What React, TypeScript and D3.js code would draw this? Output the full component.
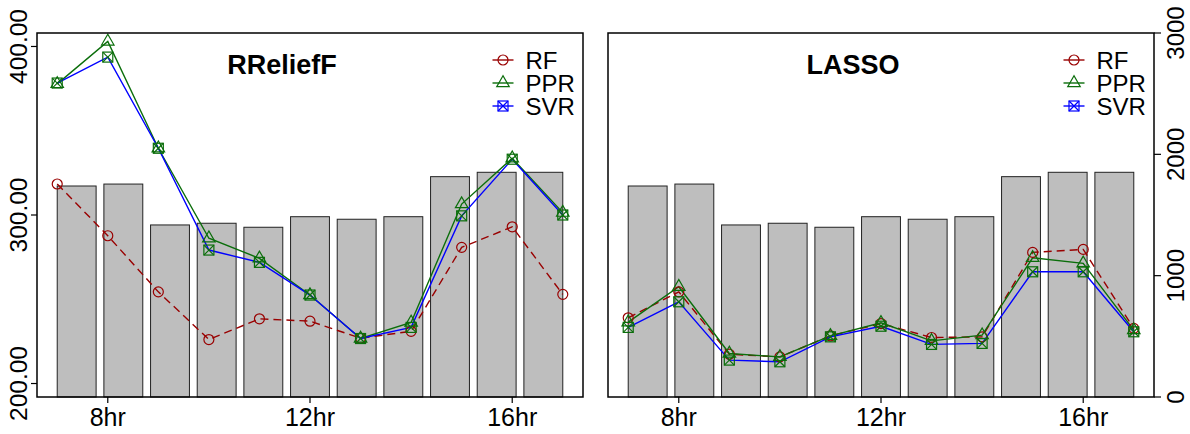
import React from "react";
import * as d3 from "d3";

const hours = [7, 8, 9, 10, 11, 12, 13, 14, 15, 16, 17];
const hourTicks = [8, 12, 16];
const hourTickLabels = ["8hr", "12hr", "16hr"];
const barValues = [1739, 1755, 1418, 1432, 1399, 1486, 1465, 1486, 1816, 1852, 1852];
const leftTicks = [200, 300, 400];
const leftTickLabels = ["200.00", "300.00", "400.00"];
const rightTicks = [0, 1000, 2000, 3000];
const rightTickLabels = ["0", "1000", "2000", "3000"];

const rreliefRF = [318.4, 287.7, 254.4, 226.1, 238.4, 237.0, 226.9, 231.0, 280.8, 293.0, 252.9];
const rreliefPPR = [377.8, 403.0, 339.6, 286.2, 274.3, 252.5, 226.7, 236.2, 306.5, 333.7, 301.4];
const rreliefSVR = [378.3, 393.7, 339.6, 279.2, 271.9, 252.5, 226.7, 233.3, 299.5, 333.1, 300.0];

const lassoRF = [239.0, 254.4, 217.4, 215.8, 228.3, 235.6, 227.3, 227.7, 277.8, 279.6, 232.7];
const lassoPPR = [236.4, 257.4, 217.8, 215.8, 228.3, 236.0, 225.3, 228.7, 274.6, 271.3, 231.7];
const lassoSVR = [233.3, 248.5, 213.9, 212.9, 227.7, 234.0, 223.2, 223.8, 266.3, 266.3, 230.7];

const panelTitles = ["RReliefF", "LASSO"];
const seriesNames = ["RF", "PPR", "SVR"];

const RED = "#990000";
const GREEN = "#0b6e0b";
const BLUE = "#0000ff";
const FONT = "'Liberation Sans', Arial, Helvetica, sans-serif";

const TOP = 33;
const BOTTOM = 397;

function Marker({ kind, x, y, color }: { kind: string; x: number; y: number; color: string }) {
  if (kind === "circle") {
    return <circle cx={x} cy={y} r={5} fill="none" stroke={color} strokeWidth={1.2} />;
  }
  if (kind === "triangle") {
    const s = 12.5;
    const h = (s * Math.sqrt(3)) / 2;
    const pts = [
      [x, y - (2 * h) / 3],
      [x - s / 2, y + h / 3],
      [x + s / 2, y + h / 3],
    ];
    return <polygon points={pts.map((p) => p.join(",")).join(" ")} fill="none" stroke={color} strokeWidth={1.2} />;
  }
  const r = 5;
  return (
    <g stroke={color} strokeWidth={1.2} fill="none">
      <rect x={x - r} y={y - r} width={2 * r} height={2 * r} />
      <line x1={x - r} y1={y - r} x2={x + r} y2={y + r} />
      <line x1={x - r} y1={y + r} x2={x + r} y2={y - r} />
    </g>
  );
}

function Panel({
  left,
  right,
  title,
  rf,
  ppr,
  svr,
  showLeftAxis,
  showRightAxis,
}: {
  left: number;
  right: number;
  title: string;
  rf: number[];
  ppr: number[];
  svr: number[];
  showLeftAxis: boolean;
  showRightAxis: boolean;
}) {
  const pad = (right - left) * (0.52 / 14.04);
  const band = d3
    .scaleBand<number>()
    .domain(hours)
    .range([left + pad, right - pad])
    .paddingInner(1 - 1 / 1.2)
    .paddingOuter(0);
  const xp = d3.scaleLinear().domain([7, 17]).range([left + pad, right - pad]);
  const yBar = d3.scaleLinear().domain([0, 3000]).range([BOTTOM, TOP]);
  const yLine = d3.scaleLinear().domain([192, 408]).range([BOTTOM, TOP]);

  const lineGen = d3
    .line<number>()
    .x((_, i) => xp(hours[i]))
    .y((d) => yLine(d));

  const series = [
    { name: seriesNames[0], data: rf, color: RED, dash: "8,5", marker: "circle", markerColor: RED },
    { name: seriesNames[1], data: ppr, color: GREEN, dash: undefined, marker: "triangle", markerColor: GREEN },
    { name: seriesNames[2], data: svr, color: BLUE, dash: undefined, marker: "square", markerColor: GREEN },
  ];

  const legendY = [60, 83, 106];

  return (
    <g>
      {hours.map((h, i) => (
        <rect
          key={h}
          x={band(h)}
          y={yBar(barValues[i])}
          width={band.bandwidth()}
          height={yBar(0) - yBar(barValues[i])}
          fill="#bebebe"
          stroke="#222"
          strokeWidth={1}
        />
      ))}
      {series.map((s) => (
        <path
          key={s.name}
          d={lineGen(s.data) || ""}
          fill="none"
          stroke={s.color}
          strokeWidth={1.4}
          strokeDasharray={s.dash}
        />
      ))}
      {series.map((s) =>
        s.data.map((v, i) => (
          <Marker key={s.name + i} kind={s.marker} x={xp(hours[i])} y={yLine(v)} color={s.markerColor} />
        ))
      )}
      <rect x={left} y={TOP} width={right - left} height={BOTTOM - TOP} fill="none" stroke="#000" strokeWidth={1.5} />
      <text
        x={left + 245}
        y={74}
        textAnchor="middle"
        fontFamily={FONT}
        fontWeight="bold"
        fontSize={27}
        fill="#000"
      >
        {title}
      </text>
      {series.map((s, i) => (
        <g key={"leg" + s.name}>
          <line
            x1={left + 455.5}
            x2={left + 476.5}
            y1={legendY[i]}
            y2={legendY[i]}
            stroke={s.color}
            strokeWidth={1.4}
          />
          <Marker kind={s.marker} x={left + 466} y={legendY[i]} color={s.color} />
          <text x={left + 488.5} y={legendY[i] + 8.5} fontFamily={FONT} fontSize={24} fill="#000">
            {s.name}
          </text>
        </g>
      ))}
      {hourTicks.map((h, i) => (
        <g key={"xt" + h}>
          <line x1={xp(h)} x2={xp(h)} y1={BOTTOM} y2={BOTTOM + 6} stroke="#000" strokeWidth={1.2} />
          <text x={xp(h)} y={425.5} textAnchor="middle" fontFamily={FONT} fontSize={25} fill="#000">
            {hourTickLabels[i]}
          </text>
        </g>
      ))}
      {showLeftAxis &&
        leftTicks.map((t, i) => (
          <g key={"yl" + t}>
            <line x1={left - 6} x2={left} y1={yLine(t)} y2={yLine(t)} stroke="#000" strokeWidth={1.2} />
            <text
              transform={`translate(${left - 10},${yLine(t)}) rotate(-90)`}
              textAnchor="middle"
              fontFamily={FONT}
              fontSize={24.5}
              fill="#000"
            >
              {leftTickLabels[i]}
            </text>
          </g>
        ))}
      {showRightAxis &&
        rightTicks.map((t, i) => (
          <g key={"yr" + t}>
            <line x1={right} x2={right + 7} y1={yBar(t)} y2={yBar(t)} stroke="#000" strokeWidth={1.2} />
            <text
              transform={`translate(${right + 30},${yBar(t)}) rotate(-90)`}
              textAnchor="middle"
              fontFamily={FONT}
              fontSize={24}
              fill="#000"
            >
              {rightTickLabels[i]}
            </text>
          </g>
        ))}
    </g>
  );
}

export default function App() {
  return (
    <svg
      width={1190}
      height={434}
      style={{ position: "absolute", left: 0, top: 0, background: "#fff" }}
    >
      <rect x={0} y={0} width={1190} height={434} fill="#fff" />
      <Panel
        left={37}
        right={583}
        title={panelTitles[0]}
        rf={rreliefRF}
        ppr={rreliefPPR}
        svr={rreliefSVR}
        showLeftAxis={true}
        showRightAxis={false}
      />
      <Panel
        left={608}
        right={1154}
        title={panelTitles[1]}
        rf={lassoRF}
        ppr={lassoPPR}
        svr={lassoSVR}
        showLeftAxis={false}
        showRightAxis={true}
      />
    </svg>
  );
}
